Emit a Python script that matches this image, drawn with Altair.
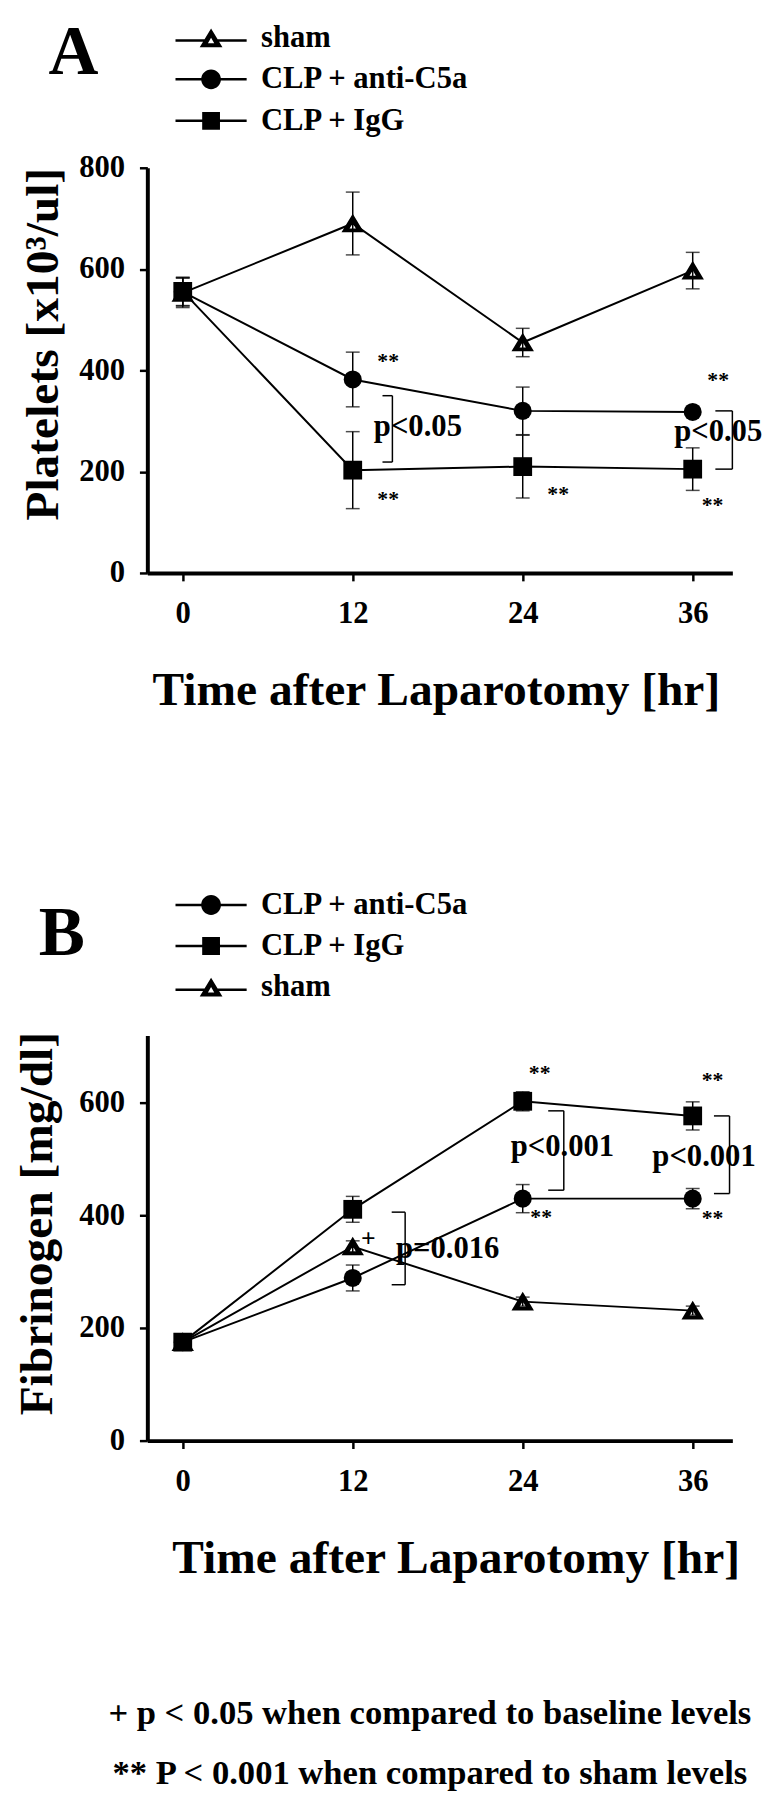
import altair as alt
import pandas as pd

FONT = "Liberation Serif"

hours = [0, 12, 24, 36]

# ---------- Panel A : Platelets ----------
a_series = ["sham", "CLP + anti-C5a", "CLP + IgG"]
a_sham = [553, 690, 455, 597]
a_sham_se = [29, 62, 28, 36]
a_anti = [555, 382, 320, 318]
a_anti_se = [28, 54, 47, 6]
a_igg = [556, 203, 210, 205]
a_igg_se = [28, 76, 62, 42]

a_star_x = [14.5, 14.5, 26.5, 37.8, 37.4]
a_star_y = [427, 154, 163, 388, 142]
a_p_x = [16.6, 37.8]
a_p_y = [287, 279]
a_p_text = ["p<0.05", "p<0.05"]
a_br_x = [14.8, 38.8]
a_br_x0 = [14.1, 37.6]
a_br_top = [350, 320]
a_br_bot = [219, 205]

# ---------- Panel B : Fibrinogen ----------
b_series = ["CLP + anti-C5a", "CLP + IgG", "sham"]
b_anti = [175, 289, 430, 430]
b_anti_se = [12, 23, 25, 18]
b_igg = [175, 411, 603, 577]
b_igg_se = [12, 23, 17, 25]
b_sham = [175, 345, 247, 231]
b_sham_se = [12, 10, 8, 8]

b_star_x = [25.2, 37.4, 25.3, 37.4]
b_star_y = [661, 647, 405, 402]
b_plus_x = [13.1]
b_plus_y = [358]
b_p_x = [18.7, 26.8, 36.8]
b_p_y = [340, 521, 503]
b_p_text = ["p=0.016", "p<0.001", "p<0.001"]
b_br_x = [15.7, 26.9, 38.6]
b_br_x0 = [14.75, 25.8, 37.5]
b_br_top = [406, 586, 577]
b_br_bot = [277, 445, 439]

footnotes = ["+ p < 0.05 when compared to baseline levels",
             "** P < 0.001 when compared to sham levels"]

# marker glyphs (black triangle with a small white centre, filled circle, filled square)
TRI = "M0,-1L1.15,0.9L-1.15,0.9Z M0,-0.04L-0.32,0.52L0.32,0.52Z"
MARK_SHAPE = {"sham": TRI, "CLP + anti-C5a": "circle", "CLP + IgG": "square"}
MARK_SIZE = {"sham": 390, "CLP + anti-C5a": 333, "CLP + IgG": 361}
# legend glyphs: marker with a line through it
SEG = "M-3.6,0.15L-0.36,0.15L-0.36,0.4L-3.6,0.4Z M0.36,0.15L3.6,0.15L3.6,0.4L0.36,0.4Z"
SEG0 = "M-3.6,-0.125L-0.9,-0.125L-0.9,0.125L-3.6,0.125Z M0.9,-0.125L3.6,-0.125L3.6,0.125L0.9,0.125Z"
LEG_PATH = {
    "sham": "M0,-0.95L1.15,0.95L-1.15,0.95Z M0,0.0L-0.32,0.56L0.32,0.56Z " + SEG,
    "CLP + anti-C5a": "M1,0A1,1,0,1,1,-1,0A1,1,0,1,1,1,0Z " + SEG0,
    "CLP + IgG": "M-0.9,-0.9L0.9,-0.9L0.9,0.9L-0.9,0.9Z " + SEG0,
}


def panel(letter, order, vals, ses, stars, plus, ptexts, brs, ymax, yvals,
          ytitle, ytx, yty, xtx, legx, legy, rowpad, tdx, tdy):
    rows = []
    for name, v, s in zip(order, vals, ses):
        for h, m, e in zip(hours, v, s):
            rows.append(dict(series=name, hour=h, val=m, lo=m - e, hi=m + e))
    df = pd.DataFrame(rows)

    xsc = alt.Scale(domain=[-2.5, 38.8], nice=False, zero=False)
    ysc = alt.Scale(domain=[0, ymax], nice=False, zero=True)
    xaxis = alt.Axis(values=hours, title="Time after Laparotomy [hr]",
                     titleX=xtx, titleY=133, titleBaseline="alphabetic",
                     titleAlign="center", labelPadding=18)
    yaxis = alt.Axis(values=yvals, title=ytitle, titleX=ytx, titleY=yty,
                     titleAlign="center", titleBaseline="alphabetic",
                     labelPadding=15)
    X = lambda f: alt.X(f, type="quantitative", scale=xsc, axis=xaxis)
    Y = lambda f: alt.Y(f, type="quantitative", scale=ysc, axis=yaxis)

    base = alt.Chart(df)
    err = base.mark_rule(color="black", strokeWidth=1.5).encode(
        x=X("hour"), y=Y("lo"), y2="hi")
    cap_hi = base.mark_tick(orient="horizontal", size=14, thickness=1.5,
                            color="black").encode(x=X("hour"), y=Y("hi"))
    cap_lo = base.mark_tick(orient="horizontal", size=14, thickness=1.5,
                            color="black").encode(x=X("hour"), y=Y("lo"))
    line = base.mark_line(color="black", strokeWidth=2).encode(
        x=X("hour"), y=Y("val"), detail="series:N")
    marks = []
    for name in order:
        marks.append(
            base.transform_filter(alt.datum.series == name).mark_point(
                shape=MARK_SHAPE[name], filled=True, fill="black",
                strokeWidth=0, size=MARK_SIZE[name],
                opacity=1).encode(x=X("hour"), y=Y("val")))

    bx, bx0, btop, bbot = brs
    dbr = pd.DataFrame(dict(hour=bx, x0=bx0, top=btop, bot=bbot))
    br_v = alt.Chart(dbr).mark_rule(color="black", strokeWidth=1.5).encode(
        x=X("hour"), y=Y("top"), y2="bot")
    br_t = alt.Chart(dbr).mark_rule(color="black", strokeWidth=1.5).encode(
        x=X("x0"), x2="hour", y=Y("top"))
    br_b = alt.Chart(dbr).mark_rule(color="black", strokeWidth=1.5).encode(
        x=X("x0"), x2="hour", y=Y("bot"))

    sx, sy = stars
    dst = pd.DataFrame(dict(hour=sx, val=sy))
    star_l = alt.Chart(dst).mark_text(text="**", font=FONT, fontWeight="bold",
                                      fontSize=22, color="black", dy=4).encode(
        x=X("hour"), y=Y("val"))

    px, py, pt = ptexts
    dp = pd.DataFrame(dict(hour=px, val=py, label=pt))
    p_l = alt.Chart(dp).mark_text(font=FONT, fontWeight="bold", fontSize=31,
                                  color="black").encode(
        x=X("hour"), y=Y("val"), text="label:N")

    layers = [err, cap_hi, cap_lo, line, br_v, br_t, br_b] + marks + [star_l, p_l]

    if plus is not None:
        dpl = pd.DataFrame(dict(hour=plus[0], val=plus[1]))
        layers.append(alt.Chart(dpl).mark_text(text="+", font=FONT, fontWeight="bold",
                                               fontSize=26, color="black").encode(
            x=X("hour"), y=Y("val")))

    leg = alt.Legend(orient="none", legendX=legx, legendY=legy, title=None,
                     direction="vertical", padding=0,
                     labelFont=FONT, labelFontSize=31, labelFontWeight="bold",
                     labelColor="black", labelLimit=600, labelOffset=35,
                     symbolSize=400, symbolStrokeWidth=0, symbolOpacity=1,
                     rowPadding=rowpad)
    dummy = base.mark_point(filled=True, opacity=0, strokeWidth=0).encode(
        x=X("hour"), y=Y("val"),
        shape=alt.Shape("series:N", scale=alt.Scale(
            domain=order, range=[LEG_PATH[n] for n in order]), legend=leg),
        fill=alt.Fill("series:N", scale=alt.Scale(
            domain=order, range=["black", "black", "black"]), legend=leg),
    )
    layers.append(dummy)

    return alt.layer(*layers).properties(
        width=592, height=410,
        title=alt.TitleParams(letter, anchor="start", orient="top", frame="group",
                              font=FONT, fontSize=70, fontWeight="bold",
                              color="black", baseline="alphabetic",
                              dx=tdx, dy=tdy, offset=0),
    )


pa = panel("A", a_series, [a_sham, a_anti, a_igg], [a_sham_se, a_anti_se, a_igg_se],
           (a_star_x, a_star_y), None, (a_p_x, a_p_y, a_p_text),
           (a_br_x, a_br_x0, a_br_top, a_br_bot), 800, [0, 200, 400, 600, 800],
           "Platelets [x10\u00b3/ul]", -91, 178, 292, 49, -147, 10, -100, 122)

pb = panel("B", b_series, [b_anti, b_igg, b_sham], [b_anti_se, b_igg_se, b_sham_se],
           (b_star_x, b_star_y), (b_plus_x, b_plus_y), (b_p_x, b_p_y, b_p_text),
           (b_br_x, b_br_x0, b_br_top, b_br_bot), 720, [0, 200, 400, 600],
           "Fibrinogen [mg/dl]", -96.5, 190, 312, 49, -147.5, 9.5, -110, 136)

chart = alt.vconcat(pa, pb, spacing=177).resolve_scale(
    x="independent", y="independent", shape="independent", fill="independent"
).resolve_legend(shape="independent", fill="independent").properties(
    padding={"left": 6, "top": 0, "right": 0, "bottom": 0},
    title=alt.TitleParams(footnotes, orient="bottom", anchor="middle",
                          font=FONT, fontSize=35, fontWeight="bold",
                          color="black", lineHeight=60, offset=116, dx=42),
).configure_view(stroke=None).configure_axis(
    domainColor="black", domainWidth=4, tickColor="black", tickWidth=2.5,
    tickSize=8, grid=False, labelFont=FONT, labelFontSize=31,
    labelFontWeight="bold", labelColor="black", titleFont=FONT,
    titleFontSize=48, titleFontWeight="bold", titleColor="black",
)

chart.save("out.html", embed_options={"renderer": "svg", "actions": False})
